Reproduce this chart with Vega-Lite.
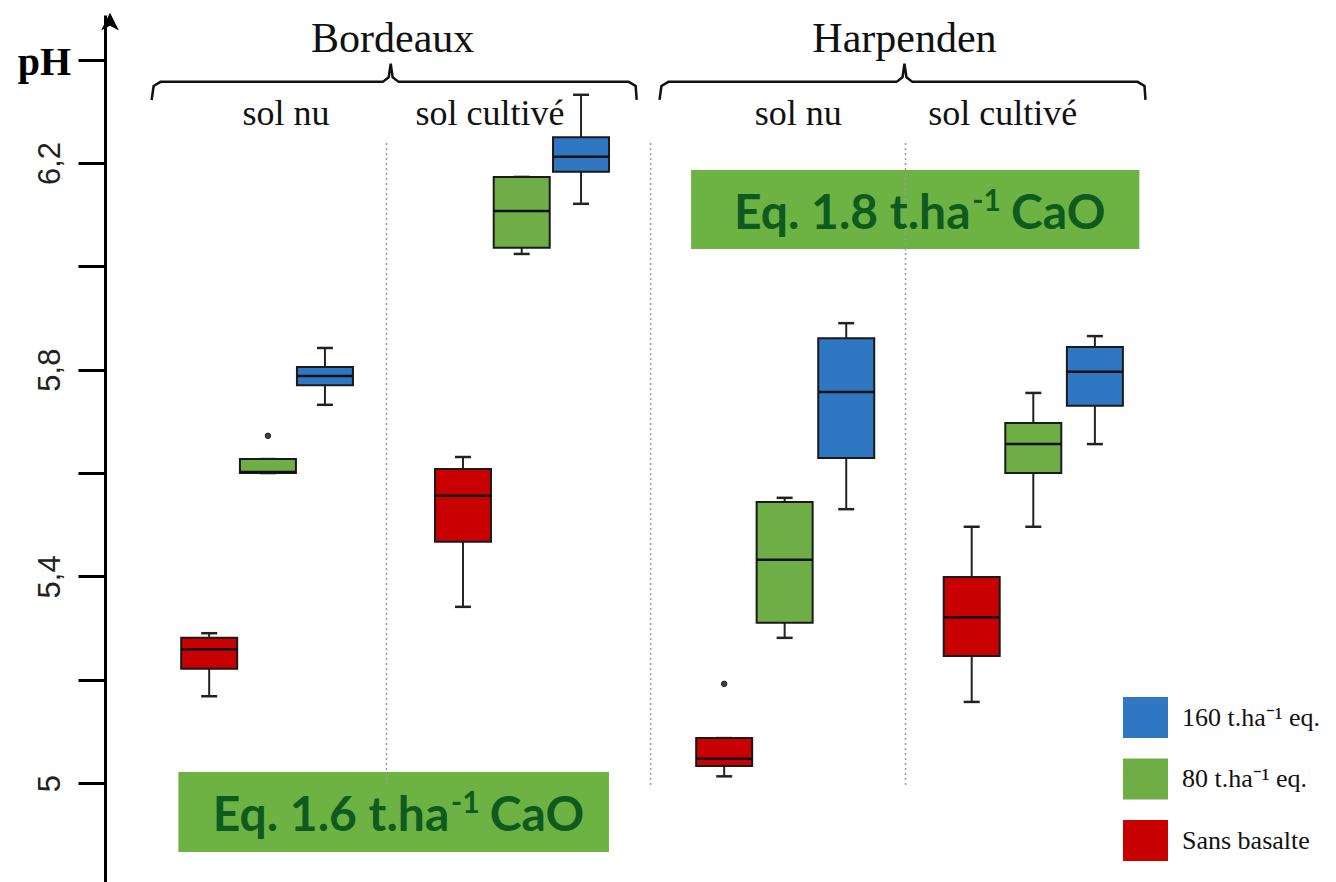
{
  "$schema": "https://vega.github.io/schema/vega-lite/v6.json",
  "width": 1231,
  "height": 867,
  "autosize": {"type": "none"},
  "padding": {"left": 105, "top": 15, "right": 0, "bottom": 0},
  "background": "white",
  "config": {
    "view": {"stroke": null},
    "axisY": {
      "labelExpr": "datum.value == 5 ? '5' : ((abs(datum.value-5.4)<0.001 || abs(datum.value-5.8)<0.001 || abs(datum.value-6.2)<0.001) ? replace(format(datum.value,'.1f'),'.',',') : '')",
      "grid": false,
      "domainColor": "#000", "domainWidth": 3,
      "tickColor": "#000", "tickWidth": 3, "tickSize": 27,
      "labelFont": "Liberation Sans", "labelFontSize": 31, "labelColor": "#222",
      "labelAngle": 270, "labelAlign": "center", "labelBaseline": "bottom", "labelPadding": 12,
      "labelOverlap": false, "labelFlush": false,
      "titleAngle": 0, "titleX": -61, "titleY": 47,
      "titleAlign": "center", "titleBaseline": "middle",
      "titleFont": "Liberation Serif", "titleFontWeight": "bold", "titleFontSize": 40, "titleColor": "#000"
    }
  },
  "datasets": {
    "boxes": [
      {"site": "Bordeaux", "sol": "sol nu", "trt": "Sans basalte", "pos": 0, "wlo": 5.168, "q1": 5.221, "med": 5.259, "q3": 5.281, "whi": 5.29},
      {"site": "Bordeaux", "sol": "sol nu", "trt": "80 t.ha\u207b\u00b9 eq.", "pos": 1.03, "wlo": 5.6, "q1": 5.6, "med": 5.602, "q3": 5.627, "whi": 5.627},
      {"site": "Bordeaux", "sol": "sol nu", "trt": "160 t.ha\u207b\u00b9 eq.", "pos": 2.03, "wlo": 5.732, "q1": 5.77, "med": 5.788, "q3": 5.805, "whi": 5.842},
      {"site": "Bordeaux", "sol": "sol cultivé", "trt": "Sans basalte", "pos": 4.45, "wlo": 5.341, "q1": 5.467, "med": 5.556, "q3": 5.608, "whi": 5.631},
      {"site": "Bordeaux", "sol": "sol cultivé", "trt": "80 t.ha\u207b\u00b9 eq.", "pos": 5.48, "wlo": 6.024, "q1": 6.036, "med": 6.107, "q3": 6.173, "whi": 6.173},
      {"site": "Bordeaux", "sol": "sol cultivé", "trt": "160 t.ha\u207b\u00b9 eq.", "pos": 6.52, "wlo": 6.121, "q1": 6.183, "med": 6.212, "q3": 6.25, "whi": 6.332},
      {"site": "Harpenden", "sol": "sol nu", "trt": "Sans basalte", "pos": 9.03, "wlo": 5.013, "q1": 5.033, "med": 5.047, "q3": 5.087, "whi": 5.087},
      {"site": "Harpenden", "sol": "sol nu", "trt": "80 t.ha\u207b\u00b9 eq.", "pos": 10.09, "wlo": 5.281, "q1": 5.31, "med": 5.432, "q3": 5.544, "whi": 5.552},
      {"site": "Harpenden", "sol": "sol nu", "trt": "160 t.ha\u207b\u00b9 eq.", "pos": 11.17, "wlo": 5.53, "q1": 5.629, "med": 5.757, "q3": 5.861, "whi": 5.89},
      {"site": "Harpenden", "sol": "sol cultivé", "trt": "Sans basalte", "pos": 13.37, "wlo": 5.157, "q1": 5.246, "med": 5.321, "q3": 5.399, "whi": 5.496},
      {"site": "Harpenden", "sol": "sol cultivé", "trt": "80 t.ha\u207b\u00b9 eq.", "pos": 14.45, "wlo": 5.496, "q1": 5.6, "med": 5.656, "q3": 5.697, "whi": 5.755},
      {"site": "Harpenden", "sol": "sol cultivé", "trt": "160 t.ha\u207b\u00b9 eq.", "pos": 15.53, "wlo": 5.656, "q1": 5.73, "med": 5.796, "q3": 5.844, "whi": 5.865}
    ],
    "outliers": [
      {"pos": 1.03, "ph": 5.672},
      {"pos": 9.03, "ph": 5.192}
    ],
    "seps": [
      {"pos": 3.11, "lo": 4.996, "hi": 6.245},
      {"pos": 7.74, "lo": 4.996, "hi": 6.245},
      {"pos": 12.21, "lo": 4.996, "hi": 6.245}
    ],
    "brace": [
      {"id": "B", "i": 0, "pos": -1.009, "ph": 6.322},
      {"id": "B", "i": 1, "pos": -0.974, "ph": 6.349},
      {"id": "B", "i": 2, "pos": -0.852, "ph": 6.357},
      {"id": "B", "i": 3, "pos": 3.043, "ph": 6.357},
      {"id": "B", "i": 4, "pos": 3.148, "ph": 6.366},
      {"id": "B", "i": 5, "pos": 3.183, "ph": 6.392},
      {"id": "B", "i": 6, "pos": 3.217, "ph": 6.366},
      {"id": "B", "i": 7, "pos": 3.322, "ph": 6.357},
      {"id": "B", "i": 8, "pos": 7.357, "ph": 6.357},
      {"id": "B", "i": 9, "pos": 7.478, "ph": 6.349},
      {"id": "B", "i": 10, "pos": 7.496, "ph": 6.322},
      {"id": "H", "i": 0, "pos": 7.896, "ph": 6.322},
      {"id": "H", "i": 1, "pos": 7.93, "ph": 6.349},
      {"id": "H", "i": 2, "pos": 8.052, "ph": 6.357},
      {"id": "H", "i": 3, "pos": 12.052, "ph": 6.357},
      {"id": "H", "i": 4, "pos": 12.157, "ph": 6.366},
      {"id": "H", "i": 5, "pos": 12.191, "ph": 6.392},
      {"id": "H", "i": 6, "pos": 12.226, "ph": 6.366},
      {"id": "H", "i": 7, "pos": 12.33, "ph": 6.357},
      {"id": "H", "i": 8, "pos": 16.278, "ph": 6.357},
      {"id": "H", "i": 9, "pos": 16.4, "ph": 6.349},
      {"id": "H", "i": 10, "pos": 16.417, "ph": 6.322}
    ],
    "sites": [
      {"t": "Bordeaux", "pos": 3.217, "ph": 6.4148},
      {"t": "Harpenden", "pos": 12.191, "ph": 6.4148}
    ],
    "soils": [
      {"t": "sol nu", "pos": 1.348, "ph": 6.2735},
      {"t": "sol cultivé", "pos": 4.922, "ph": 6.2735},
      {"t": "sol nu", "pos": 10.33, "ph": 6.2735},
      {"t": "sol cultivé", "pos": 13.913, "ph": 6.2735}
    ],
    "notes": [
      {"x1": -0.54, "x2": 7.01, "y1": 4.8665, "y2": 5.0214},
      {"x1": 8.45, "x2": 16.31, "y1": 6.0336, "y2": 6.1865}
    ],
    "noteMain": [
      {"t": "Eq. 1.6 t.ha", "pos": 4.21, "ph": 4.907},
      {"t": "Eq. 1.8 t.ha", "pos": 13.35, "ph": 6.0723}
    ],
    "noteSup": [
      {"t": "-1", "pos": 4.24, "ph": 4.942},
      {"t": "-1", "pos": 13.38, "ph": 6.1071}
    ],
    "noteEnd": [
      {"t": "CaO", "pos": 4.92, "ph": 4.907},
      {"t": "CaO", "pos": 14.06, "ph": 6.0723}
    ],
    "arrow": [
      {"pos": -1.739, "ph": 6.4735}
    ]
  },
  "layer": [
    {
      "data": {"name": "notes"},
      "mark": {"type": "rect", "fill": "#6db344"},
      "encoding": {
        "x": {"field": "x1", "type": "quantitative", "scale": {"domain": [-1.739, 19.67], "nice": false, "zero": false}, "axis": null},
        "x2": {"field": "x2"},
        "y": {"field": "y1", "type": "quantitative", "title": "pH", "scale": {"domain": [4.8085, 6.4864], "nice": false, "zero": false}, "axis": {"values": [5, 5.2, 5.4, 5.6, 5.8, 6, 6.2, 6.4]}},
        "y2": {"field": "y2"}
      }
    },
    {
      "data": {"name": "seps"},
      "mark": {"type": "rule", "color": "#9a9a9a", "strokeWidth": 1.5, "strokeDash": [2, 3]},
      "encoding": {
        "x": {"field": "pos", "type": "quantitative", "axis": null},
        "y": {"field": "lo", "type": "quantitative", "title": "pH", "axis": {"values": [5, 5.2, 5.4, 5.6, 5.8, 6, 6.2, 6.4]}},
        "y2": {"field": "hi"}
      }
    },
    {
      "data": {"name": "brace"},
      "mark": {"type": "line", "color": "#111", "strokeWidth": 2.5},
      "encoding": {
        "x": {"field": "pos", "type": "quantitative", "axis": null},
        "y": {"field": "ph", "type": "quantitative", "title": "pH", "axis": {"values": [5, 5.2, 5.4, 5.6, 5.8, 6, 6.2, 6.4]}},
        "detail": {"field": "id"},
        "order": {"field": "i", "type": "quantitative"}
      }
    },
    {
      "data": {"name": "sites"},
      "mark": {"type": "text", "font": "Liberation Serif", "fontSize": 42, "color": "#111", "align": "center", "baseline": "alphabetic"},
      "encoding": {
        "x": {"field": "pos", "type": "quantitative", "axis": null},
        "y": {"field": "ph", "type": "quantitative", "title": "pH", "axis": {"values": [5, 5.2, 5.4, 5.6, 5.8, 6, 6.2, 6.4]}},
        "text": {"field": "t"}
      }
    },
    {
      "data": {"name": "soils"},
      "mark": {"type": "text", "font": "Liberation Serif", "fontSize": 36, "color": "#111", "align": "center", "baseline": "alphabetic"},
      "encoding": {
        "x": {"field": "pos", "type": "quantitative", "axis": null},
        "y": {"field": "ph", "type": "quantitative", "title": "pH", "axis": {"values": [5, 5.2, 5.4, 5.6, 5.8, 6, 6.2, 6.4]}},
        "text": {"field": "t"}
      }
    },
    {
      "data": {"name": "boxes"},
      "mark": {"type": "rule", "color": "#222", "strokeWidth": 2},
      "encoding": {
        "x": {"field": "pos", "type": "quantitative", "axis": null},
        "y": {"field": "wlo", "type": "quantitative", "title": "pH", "axis": {"values": [5, 5.2, 5.4, 5.6, 5.8, 6, 6.2, 6.4]}},
        "y2": {"field": "whi"}
      }
    },
    {
      "data": {"name": "boxes"},
      "mark": {"type": "tick", "orient": "horizontal", "size": 16, "thickness": 2.5, "color": "#222", "opacity": 1},
      "encoding": {
        "x": {"field": "pos", "type": "quantitative", "axis": null},
        "y": {"field": "whi", "type": "quantitative", "title": "pH", "axis": {"values": [5, 5.2, 5.4, 5.6, 5.8, 6, 6.2, 6.4]}}
      }
    },
    {
      "data": {"name": "boxes"},
      "mark": {"type": "tick", "orient": "horizontal", "size": 16, "thickness": 2.5, "color": "#222", "opacity": 1},
      "encoding": {
        "x": {"field": "pos", "type": "quantitative", "axis": null},
        "y": {"field": "wlo", "type": "quantitative", "title": "pH", "axis": {"values": [5, 5.2, 5.4, 5.6, 5.8, 6, 6.2, 6.4]}}
      }
    },
    {
      "data": {"name": "boxes"},
      "mark": {"type": "bar", "size": 56, "stroke": "#1a1a1a", "strokeWidth": 2, "opacity": 1},
      "encoding": {
        "x": {"field": "pos", "type": "quantitative", "axis": null},
        "y": {"field": "q1", "type": "quantitative", "title": "pH", "axis": {"values": [5, 5.2, 5.4, 5.6, 5.8, 6, 6.2, 6.4]}},
        "y2": {"field": "q3"},
        "color": {
          "field": "trt", "type": "nominal",
          "scale": {"domain": ["160 t.ha\u207b\u00b9 eq.", "80 t.ha\u207b\u00b9 eq.", "Sans basalte"], "range": ["#2f77c2", "#6fae46", "#c80000"]},
          "legend": {
            "title": null, "orient": "none", "legendX": 1018, "legendY": 680, "padding": 0,
            "symbolType": "M-1,-0.91H1V0.91H-1Z", "symbolSize": 2025, "symbolStrokeWidth": 0, "symbolOpacity": 1,
            "labelFont": "Liberation Serif", "labelFontSize": 26, "labelColor": "#111", "labelOffset": 14,
            "rowPadding": 18.5, "labelLimit": 300,
            "encode": {"symbols": {"update": {"stroke": {"value": "transparent"}}}}
          }
        }
      }
    },
    {
      "data": {"name": "boxes"},
      "mark": {"type": "tick", "orient": "horizontal", "size": 56, "thickness": 2.5, "color": "#111", "opacity": 1},
      "encoding": {
        "x": {"field": "pos", "type": "quantitative", "axis": null},
        "y": {"field": "med", "type": "quantitative", "title": "pH", "axis": {"values": [5, 5.2, 5.4, 5.6, 5.8, 6, 6.2, 6.4]}}
      }
    },
    {
      "data": {"name": "outliers"},
      "mark": {"type": "point", "filled": true, "size": 30, "fill": "#4a3a40", "stroke": "#222", "strokeWidth": 1, "opacity": 1},
      "encoding": {
        "x": {"field": "pos", "type": "quantitative", "axis": null},
        "y": {"field": "ph", "type": "quantitative", "title": "pH", "axis": {"values": [5, 5.2, 5.4, 5.6, 5.8, 6, 6.2, 6.4]}}
      }
    },
    {
      "data": {"name": "noteMain"},
      "mark": {"type": "text", "font": "Lato", "fontWeight": "bold", "fontSize": 48, "color": "#0f5a1f", "align": "right", "baseline": "alphabetic"},
      "encoding": {
        "x": {"field": "pos", "type": "quantitative", "axis": null},
        "y": {"field": "ph", "type": "quantitative", "title": "pH", "axis": {"values": [5, 5.2, 5.4, 5.6, 5.8, 6, 6.2, 6.4]}},
        "text": {"field": "t"}
      }
    },
    {
      "data": {"name": "noteSup"},
      "mark": {"type": "text", "font": "Lato", "fontWeight": "bold", "fontSize": 30, "color": "#0f5a1f", "align": "left", "baseline": "alphabetic"},
      "encoding": {
        "x": {"field": "pos", "type": "quantitative", "axis": null},
        "y": {"field": "ph", "type": "quantitative", "title": "pH", "axis": {"values": [5, 5.2, 5.4, 5.6, 5.8, 6, 6.2, 6.4]}},
        "text": {"field": "t"}
      }
    },
    {
      "data": {"name": "noteEnd"},
      "mark": {"type": "text", "font": "Lato", "fontWeight": "bold", "fontSize": 48, "color": "#0f5a1f", "align": "left", "baseline": "alphabetic"},
      "encoding": {
        "x": {"field": "pos", "type": "quantitative", "axis": null},
        "y": {"field": "ph", "type": "quantitative", "title": "pH", "axis": {"values": [5, 5.2, 5.4, 5.6, 5.8, 6, 6.2, 6.4]}},
        "text": {"field": "t"}
      }
    },
    {
      "data": {"name": "arrow"},
      "mark": {"type": "point", "shape": "M0,-1L1,1L0,0.45L-1,1Z", "filled": true, "size": 320, "fill": "#000", "opacity": 1, "strokeWidth": 0},
      "encoding": {
        "x": {"field": "pos", "type": "quantitative", "axis": null},
        "y": {"field": "ph", "type": "quantitative", "title": "pH", "axis": {"values": [5, 5.2, 5.4, 5.6, 5.8, 6, 6.2, 6.4]}}
      }
    }
  ]
}
